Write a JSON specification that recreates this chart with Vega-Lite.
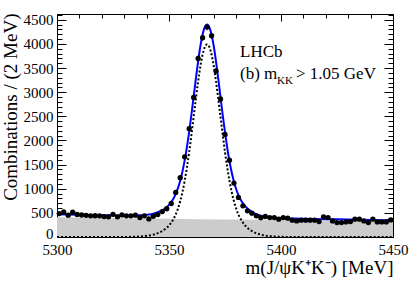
{
 "$schema": "https://vega.github.io/schema/vega-lite/v6.json",
 "width": 336, "height": 223,
 "autosize": {"type": "none"},
 "padding": {"left": 57, "top": 14, "right": 22, "bottom": 46},
 "background": "white",
 "config": {
  "view": {"stroke": null},
  "axis": {"grid": false, "zindex": 1, "labelFont": "Liberation Serif", "labelColor": "black", "titleFont": "Liberation Serif", "titleFontWeight": "normal", "titleColor": "black", "tickColor": "black", "domainColor": "black", "domainWidth": 1, "tickWidth": 1, "labelOverlap": false, "labelFlush": false}
 },
 "datasets": {
  "bg": [{"m":5300,"b":410},{"m":5325,"b":393},{"m":5350,"b":377},{"m":5375,"b":361},{"m":5400,"b":346},{"m":5425,"b":332},{"m":5450,"b":318}],
  "curve": [
   {"m":5300,"sig":0,"tot":470},{"m":5310,"sig":0,"tot":462},{"m":5320,"sig":0,"tot":453},{"m":5325,"sig":0,"tot":449},{"m":5330,"sig":1,"tot":446},{"m":5335,"sig":5,"tot":446},{"m":5337,"sig":10,"tot":449},{"m":5339,"sig":18,"tot":456},{"m":5341,"sig":30,"tot":466},{"m":5343,"sig":49,"tot":483},{"m":5345,"sig":79,"tot":512},{"m":5347,"sig":124,"tot":555},{"m":5348,"sig":154,"tot":584},{"m":5349,"sig":192,"tot":621},{"m":5350,"sig":238,"tot":666},{"m":5351,"sig":297,"tot":725},{"m":5352,"sig":371,"tot":798},{"m":5353,"sig":466,"tot":892},{"m":5354,"sig":587,"tot":1012},{"m":5355,"sig":741,"tot":1165},{"m":5356,"sig":931,"tot":1354},{"m":5357,"sig":1164,"tot":1587},{"m":5358,"sig":1441,"tot":1863},{"m":5359,"sig":1759,"tot":2180},{"m":5360,"sig":2112,"tot":2532},{"m":5361,"sig":2487,"tot":2906},{"m":5362,"sig":2864,"tot":3282},{"m":5363,"sig":3222,"tot":3640},{"m":5364,"sig":3535,"tot":3952},{"m":5365,"sig":3780,"tot":4196},{"m":5366,"sig":3937,"tot":4352},{"m":5367,"sig":3990,"tot":4404},{"m":5368,"sig":3937,"tot":4350},{"m":5369,"sig":3780,"tot":4193},{"m":5370,"sig":3535,"tot":3947},{"m":5371,"sig":3222,"tot":3633},{"m":5372,"sig":2864,"tot":3274},{"m":5373,"sig":2487,"tot":2896},{"m":5374,"sig":2112,"tot":2520},{"m":5375,"sig":1759,"tot":2167},{"m":5376,"sig":1441,"tot":1848},{"m":5377,"sig":1164,"tot":1570},{"m":5378,"sig":931,"tot":1336},{"m":5379,"sig":741,"tot":1145},{"m":5380,"sig":587,"tot":990},{"m":5381,"sig":466,"tot":869},{"m":5382,"sig":371,"tot":773},{"m":5383,"sig":297,"tot":698},{"m":5384,"sig":238,"tot":638},{"m":5385,"sig":192,"tot":591},{"m":5386,"sig":154,"tot":552},{"m":5387,"sig":124,"tot":522},{"m":5389,"sig":79,"tot":475},{"m":5391,"sig":49,"tot":443},{"m":5393,"sig":30,"tot":423},{"m":5395,"sig":18,"tot":409},{"m":5397,"sig":10,"tot":399},{"m":5400,"sig":4,"tot":391},{"m":5405,"sig":1,"tot":383},{"m":5410,"sig":0,"tot":378},{"m":5420,"sig":0,"tot":370},{"m":5430,"sig":0,"tot":362},{"m":5440,"sig":0,"tot":353},{"m":5450,"sig":0,"tot":345}
  ],
  "pts": [
   {"m":5301,"n":485,"err":22},{"m":5303,"n":520,"err":23},{"m":5305,"n":452,"err":21},{"m":5307,"n":515,"err":23},{"m":5309,"n":466,"err":22},{"m":5311,"n":456,"err":21},{"m":5313,"n":450,"err":21},{"m":5315,"n":438,"err":21},{"m":5317,"n":440,"err":21},{"m":5319,"n":438,"err":21},{"m":5321,"n":423,"err":21},{"m":5323,"n":417,"err":20},{"m":5325,"n":470,"err":22},{"m":5327,"n":417,"err":20},{"m":5329,"n":458,"err":21},{"m":5331,"n":438,"err":21},{"m":5333,"n":438,"err":21},{"m":5335,"n":452,"err":21},{"m":5337,"n":402,"err":20},{"m":5339,"n":438,"err":21},{"m":5341,"n":375,"err":19},{"m":5343,"n":430,"err":21},{"m":5345,"n":465,"err":22},{"m":5347,"n":527,"err":23},{"m":5349,"n":585,"err":24},{"m":5351,"n":694,"err":26},{"m":5353,"n":923,"err":30},{"m":5355,"n":1230,"err":35},{"m":5357,"n":1660,"err":41},{"m":5359,"n":2244,"err":47},{"m":5361,"n":2890,"err":54},{"m":5363,"n":3700,"err":61},{"m":5365,"n":4130,"err":64},{"m":5367,"n":4350,"err":66},{"m":5369,"n":4170,"err":65},{"m":5371,"n":3440,"err":59},{"m":5373,"n":2860,"err":53},{"m":5375,"n":2125,"err":46},{"m":5377,"n":1590,"err":40},{"m":5379,"n":1118,"err":33},{"m":5381,"n":819,"err":29},{"m":5383,"n":646,"err":25},{"m":5385,"n":542,"err":23},{"m":5387,"n":494,"err":22},{"m":5389,"n":438,"err":21},{"m":5391,"n":400,"err":20},{"m":5393,"n":425,"err":21},{"m":5395,"n":402,"err":20},{"m":5397,"n":402,"err":20},{"m":5399,"n":369,"err":19},{"m":5401,"n":402,"err":20},{"m":5403,"n":390,"err":20},{"m":5405,"n":348,"err":19},{"m":5407,"n":333,"err":18},{"m":5409,"n":348,"err":19},{"m":5411,"n":348,"err":19},{"m":5413,"n":348,"err":19},{"m":5415,"n":348,"err":19},{"m":5417,"n":319,"err":18},{"m":5419,"n":417,"err":20},{"m":5421,"n":402,"err":20},{"m":5423,"n":333,"err":18},{"m":5425,"n":298,"err":17},{"m":5427,"n":298,"err":17},{"m":5429,"n":312,"err":18},{"m":5431,"n":319,"err":18},{"m":5433,"n":369,"err":19},{"m":5435,"n":369,"err":19},{"m":5437,"n":333,"err":18},{"m":5439,"n":298,"err":17},{"m":5441,"n":369,"err":19},{"m":5443,"n":312,"err":18},{"m":5445,"n":312,"err":18},{"m":5447,"n":312,"err":18},{"m":5449,"n":354,"err":19}
  ],
  "notes": [{"t": "LHCb", "m": 5381.7, "v": 3729}, {"t": "(b) m", "m": 5381.7, "v": 3273}, {"t": "> 1.05 GeV", "m": 5406.7, "v": 3273}],
  "subs": [{"t": "KK", "m": 5398.2, "v": 3170}]
 },
 "layer": [
  {
   "data": {"name": "bg"},
   "mark": {"type": "area", "color": "#cccccc", "interpolate": "monotone"},
   "encoding": {
    "x": {"field": "m", "type": "quantitative", "scale": {"domain": [5300, 5450], "nice": false, "zero": false},
          "axis": {"orient": "bottom", "values": [5300, 5350, 5400, 5450], "format": "d", "ticks": false, "domain": true, "labelFont": "Liberation Serif", "labelFontSize": 15, "labelPadding": 5,
                   "title": "m(J/ψK⁺K⁻) [MeV]", "titleFont": "Liberation Serif", "titleFontSize": 19, "titleX": 336, "titleY": 36, "titleAlign": "right", "titleBaseline": "alphabetic", "titleAngle": 0}},
    "y": {"field": "b", "type": "quantitative", "scale": {"domain": [0, 4620], "nice": false},
          "axis": {"orient": "left", "values": [0,500,1000,1500,2000,2500,3000,3500,4000,4500], "format": "d", "ticks": false, "domain": true, "labelFont": "Liberation Serif", "labelFontSize": 15, "labelPadding": 4, "labelBaseline": "middle",
                   "labelOffset": {"condition": {"test": "datum.value === 0", "value": -4}, "value": 0},
                   "title": "Combinations / (2 MeV)", "titleFont": "Liberation Serif", "titleFontSize": 19, "titleX": -56, "titleY": -1, "titleAngle": -90, "titleAlign": "right", "titleBaseline": "top"}}
   }
  },
  {
   "data": {"name": "curve"},
   "mark": {"type": "line", "color": "black", "strokeWidth": 2, "strokeDash": [2, 2], "interpolate": "monotone"},
   "encoding": {
    "x": {"field": "m", "type": "quantitative", "scale": {"domain": [5300, 5450], "nice": false, "zero": false},
          "axis": {"orient": "bottom", "values": [5300,5310,5320,5330,5340,5350,5360,5370,5380,5390,5400,5410,5420,5430,5440,5450], "labels": false, "domain": false, "title": null,
                   "tickSize": {"condition": {"test": "datum.value % 50 === 0", "value": -7}, "value": -4}}},
    "y": {"field": "sig", "type": "quantitative", "scale": {"domain": [0, 4620], "nice": false},
          "axis": {"orient": "left", "values": [0,100,200,300,400,500,600,700,800,900,1000,1100,1200,1300,1400,1500,1600,1700,1800,1900,2000,2100,2200,2300,2400,2500,2600,2700,2800,2900,3000,3100,3200,3300,3400,3500,3600,3700,3800,3900,4000,4100,4200,4300,4400,4500,4600], "labels": false, "domain": false, "title": null,
                   "tickSize": {"condition": {"test": "datum.value % 500 === 0", "value": -9}, "value": -5}}}
   }
  },
  {
   "data": {"name": "curve"},
   "mark": {"type": "line", "color": "#0000ff", "strokeWidth": 2, "interpolate": "monotone"},
   "encoding": {
    "x": {"field": "m", "type": "quantitative", "scale": {"domain": [5300, 5450], "nice": false, "zero": false},
          "axis": {"orient": "top", "values": [5300,5310,5320,5330,5340,5350,5360,5370,5380,5390,5400,5410,5420,5430,5440,5450], "labels": false, "domain": true, "title": null,
                   "tickSize": {"condition": {"test": "datum.value % 50 === 0", "value": -7}, "value": -4}}},
    "y": {"field": "tot", "type": "quantitative", "scale": {"domain": [0, 4620], "nice": false},
          "axis": {"orient": "right", "values": [0,100,200,300,400,500,600,700,800,900,1000,1100,1200,1300,1400,1500,1600,1700,1800,1900,2000,2100,2200,2300,2400,2500,2600,2700,2800,2900,3000,3100,3200,3300,3400,3500,3600,3700,3800,3900,4000,4100,4200,4300,4400,4500,4600], "labels": false, "domain": true, "title": null,
                   "tickSize": {"condition": {"test": "datum.value % 500 === 0", "value": -9}, "value": -5}}}
   }
  },
  {
   "data": {"name": "pts"},
   "mark": {"type": "errorbar", "color": "black", "thickness": 1},
   "encoding": {
    "x": {"field": "m", "type": "quantitative", "scale": {"domain": [5300, 5450], "nice": false, "zero": false}, "axis": null},
    "y": {"field": "n", "type": "quantitative", "scale": {"domain": [0, 4620], "nice": false}, "axis": null},
    "yError": {"field": "err"}
   }
  },
  {
   "data": {"name": "pts"},
   "mark": {"type": "circle", "color": "black", "size": 28, "opacity": 1},
   "encoding": {
    "x": {"field": "m", "type": "quantitative", "scale": {"domain": [5300, 5450], "nice": false, "zero": false}, "axis": null},
    "y": {"field": "n", "type": "quantitative", "scale": {"domain": [0, 4620], "nice": false}, "axis": null}
   }
  },
  {
   "data": {"name": "notes"},
   "mark": {"type": "text", "font": "Liberation Serif", "fontSize": 17, "align": "left", "baseline": "alphabetic", "color": "black"},
   "encoding": {
    "x": {"field": "m", "type": "quantitative", "scale": {"domain": [5300, 5450], "nice": false, "zero": false}, "axis": null},
    "y": {"field": "v", "type": "quantitative", "scale": {"domain": [0, 4620], "nice": false}, "axis": null},
    "text": {"field": "t"}
   }
  },
  {
   "data": {"name": "subs"},
   "mark": {"type": "text", "font": "Liberation Serif", "fontSize": 11, "align": "left", "baseline": "alphabetic", "color": "black"},
   "encoding": {
    "x": {"field": "m", "type": "quantitative", "scale": {"domain": [5300, 5450], "nice": false, "zero": false}, "axis": null},
    "y": {"field": "v", "type": "quantitative", "scale": {"domain": [0, 4620], "nice": false}, "axis": null},
    "text": {"field": "t"}
   }
  }
 ],
 "resolve": {"axis": {"x": "independent", "y": "independent"}}
}
